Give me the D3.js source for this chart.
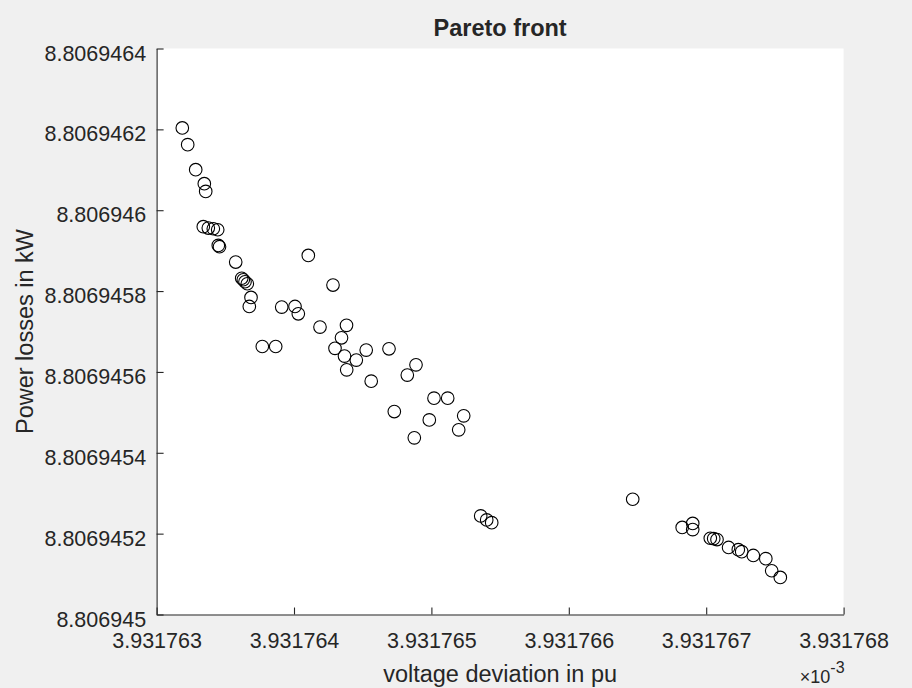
<!DOCTYPE html>
<html>
<head>
<meta charset="utf-8">
<script src="https://cdn.jsdelivr.net/npm/d3@7"></script>
<style>
  html, body { margin: 0; padding: 0; background: #f0f0f0; }
  svg { display: block; }
  text { font-family: "Liberation Sans", Arial, Helvetica, sans-serif; fill: #262626; }
</style>
</head>
<body>
<svg id="chart" width="912" height="688"></svg>
<script>
// Pareto front: voltage deviation (x 1e-3 pu) vs power losses (kW)
const voltageDev = [
  3.9317631870, 3.9317632263, 3.9317632846, 3.9317633472, 3.9317633574,
  3.9317633399, 3.9317633763, 3.9317634127, 3.9317634447, 3.9317634491,
  3.9317634578, 3.9317635757, 3.9317636194, 3.9317636310, 3.9317636434,
  3.9317636601, 3.9317636871, 3.9317636747, 3.9317637693, 3.9317638668,
  3.9317639105, 3.9317640073, 3.9317640313, 3.9317641041, 3.9317641892,
  3.9317642838, 3.9317643821, 3.9317643457, 3.9317642984, 3.9317643675,
  3.9317644534, 3.9317645255, 3.9317643836, 3.9317645619, 3.9317646914,
  3.9317648879, 3.9317648246, 3.9317650189, 3.9317651186, 3.9317647300,
  3.9317649847, 3.9317652351, 3.9317651987, 3.9317648756, 3.9317653588,
  3.9317654025, 3.9317654389, 3.9317664651, 3.9317668253, 3.9317669018,
  3.9317669018, 3.9317670298, 3.9317670546, 3.9317670786, 3.9317671630,
  3.9317672336, 3.9317672584, 3.9317673428, 3.9317674338, 3.9317674767,
  3.9317675393
];
const powerLoss = [
  8.8069462035, 8.8069461621, 8.8069461002, 8.8069460656, 8.8069460465,
  8.8069459592, 8.8069459559, 8.8069459542, 8.8069459517, 8.8069459129,
  8.8069459097, 8.8069458718, 8.8069458317, 8.8069458280, 8.8069458230,
  8.8069458181, 8.8069457842, 8.8069457619, 8.8069456629, 8.8069456629,
  8.8069457604, 8.8069457619, 8.8069457438, 8.8069458881, 8.8069457109,
  8.8069458149, 8.8069457153, 8.8069456844, 8.8069456584, 8.8069456391,
  8.8069456292, 8.8069456540, 8.8069456052, 8.8069455772, 8.8069456572,
  8.8069456176, 8.8069455921, 8.8069455351, 8.8069455351, 8.8069455020,
  8.8069454814, 8.8069454913, 8.8069454567, 8.8069454369, 8.8069452438,
  8.8069452339, 8.8069452272, 8.8069452851, 8.8069452153, 8.8069452252,
  8.8069452101, 8.8069451886, 8.8069451876, 8.8069451854, 8.8069451658,
  8.8069451604, 8.8069451554, 8.8069451460, 8.8069451381, 8.8069451082,
  8.8069450916
];

const xTicks = [3.931763, 3.931764, 3.931765, 3.931766, 3.931767, 3.931768];
const xTickLabels = ["3.931763", "3.931764", "3.931765", "3.931766", "3.931767", "3.931768"];
const yTicks = [8.806945, 8.8069452, 8.8069454, 8.8069456, 8.8069458, 8.806946, 8.8069462, 8.8069464];
const yTickLabels = ["8.806945", "8.8069452", "8.8069454", "8.8069456", "8.8069458", "8.806946", "8.8069462", "8.8069464"];
const xExponent = "-3";

const titleText = "Pareto front";
const xLabelText = "voltage deviation in pu";
const yLabelText = "Power losses in kW";

const points = voltageDev.map((v, i) => ({ x: v, y: powerLoss[i] }));

const svg = d3.select("#chart");
const W = 912, H = 688;
const margin = { left: 156.6, right: 68.4, top: 48.5, bottom: 73.5 };
const iw = W - margin.left - margin.right;
const ih = H - margin.top - margin.bottom;
const ink = "#262626";

const x = d3.scaleLinear().domain([xTicks[0], xTicks[xTicks.length - 1]]).range([0, iw]);
const y = d3.scaleLinear().domain([yTicks[0], yTicks[yTicks.length - 1]]).range([ih, 0]);

const g = svg.append("g").attr("transform", `translate(${margin.left},${margin.top})`);

// white plotting area
g.append("rect").attr("width", iw).attr("height", ih).attr("fill", "#ffffff");

// open circle markers
g.append("g")
  .selectAll("circle")
  .data(points)
  .join("circle")
  .attr("cx", d => x(d.x))
  .attr("cy", d => y(d.y))
  .attr("r", 6.3)
  .attr("fill", "none")
  .attr("stroke", "#000")
  .attr("stroke-width", 1.1);

// axes with inward ticks
const xAxis = d3.axisBottom(x)
  .tickValues(xTicks)
  .tickFormat((d, i) => xTickLabels[i])
  .tickSizeInner(-7).tickSizeOuter(0).tickPadding(18);
const yAxis = d3.axisLeft(y)
  .tickValues(yTicks)
  .tickFormat((d, i) => yTickLabels[i])
  .tickSizeInner(-7).tickSizeOuter(0).tickPadding(10.5);

const gx = g.append("g").attr("transform", `translate(0,${ih})`).call(xAxis);
const gy = g.append("g").call(yAxis);

[gx, gy].forEach(ax => {
  ax.select(".domain").attr("stroke", ink).attr("stroke-width", 1.1);
  ax.selectAll(".tick line").attr("stroke", ink).attr("stroke-width", 1.1);
  ax.selectAll(".tick text")
    .attr("fill", ink)
    .style("font-family", '"Liberation Sans", Arial, sans-serif')
    .style("font-size", "21.5px");
});
gy.selectAll(".tick text").attr("dy", "0.54em");

// title
svg.append("text")
  .attr("x", margin.left + iw / 2)
  .attr("y", 36)
  .attr("text-anchor", "middle")
  .style("font-size", "23.5px")
  .style("font-weight", "bold")
  .attr("fill", "#000")
  .text(titleText);

// x label
svg.append("text")
  .attr("x", margin.left + iw / 2)
  .attr("y", 682)
  .attr("text-anchor", "middle")
  .style("font-size", "23.5px")
  .text(xLabelText);

// y label
svg.append("text")
  .attr("transform", `translate(33,${margin.top + ih / 2}) rotate(-90)`)
  .attr("text-anchor", "middle")
  .style("font-size", "23.5px")
  .text(yLabelText);

// x exponent multiplier
const ex = svg.append("text")
  .attr("x", margin.left + iw + 1)
  .attr("y", 683)
  .attr("text-anchor", "end")
  .style("font-size", "18px");
ex.append("tspan").text("\u00d710");
ex.append("tspan").attr("dy", -10).style("font-size", "16px").text(xExponent);
</script>
</body>
</html>
